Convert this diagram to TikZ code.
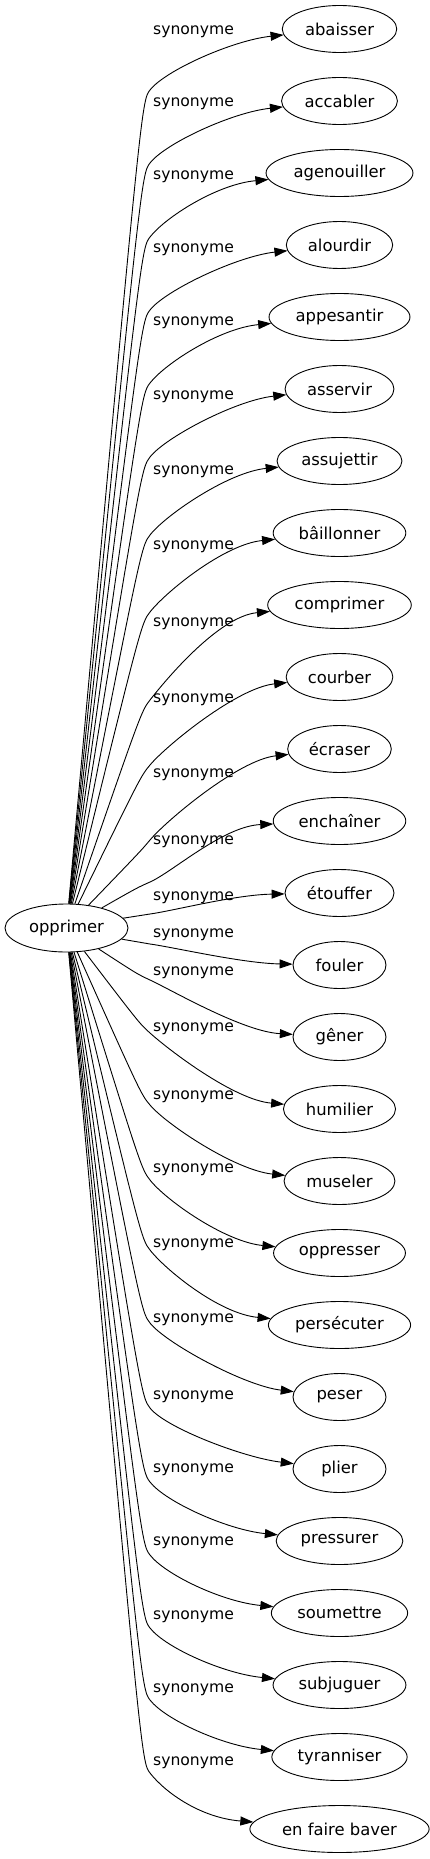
\documentclass[tikz,border=0pt]{standalone}
\usepackage{fontspec}
\setmainfont{DejaVu Sans}
\usetikzlibrary{arrows.meta, positioning, calc, shapes.geometric}
\tikzset{
    synonymgraph/.style={x=1pt, y=1pt, line width=0.9pt, >={Triangle[length=13pt, width=9pt]}},
    head/.style={draw, ellipse, minimum width=123pt, minimum height=48pt, inner xsep=6pt, font=\fontsize{16.4}{19}\selectfont},
    word/.style={draw, ellipse, minimum width=93pt, minimum height=47pt, inner xsep=6pt, font=\fontsize{16.4}{19}\selectfont},
    rel/.style={inner sep=0pt, font=\fontsize{15.6}{18}\selectfont},
}

\begin{document}
\begin{tikzpicture}[synonymgraph]
    \useasboundingbox (0,0) rectangle (430,-1859);
    \node[head] (opp) at (66.5,-928) {opprimer};

    % word / label y / bend y / angle at bend (bend points sit just left of the labels)
    \foreach \w/\ly/\by/\a [count=\i from 0] in {
        abaisser/32/90/52, accabler/104/163/52, agenouiller/177/237/52,
        alourdir/250/310/52, appesantir/323/383/52, asservir/397/457/52,
        assujettir/472/535/52, bâillonner/547/612/52, comprimer/624/700/52,
        courber/700/765/50, écraser/775/840/50, enchaîner/842/882/24,
        étouffer/898/914/8, fouler/935/944/-8, gêner/973/980/-25,
        humilier/1029/1033/-42, museler/1097/1105/-50, oppresser/1170/1180/-52,
        persécuter/1245/1250/-52, peser/1320/1323/-52, plier/1397/1408/-52,
        pressurer/1470/1482/-52, soumettre/1543/1555/-52, subjuguer/1617/1628/-52,
        tyranniser/1690/1700/-52, en faire baver/1763/1773/-52} {
        \node[word] (n\i) at (339.5,{-29-72*\i}) {\w};
        \node[rel] (l\i) at (193.5,-\ly) {synonyme};
        \coordinate (b\i) at (150,-\by);
        \draw[->] (opp) .. controls ($(b\i)+({\a+180}:14)$) .. (b\i)
            .. controls +(\a:25) and ($(n\i.west)+({180+\a/4}:50)$) .. (n\i);
    }
\end{tikzpicture}
\end{document}
